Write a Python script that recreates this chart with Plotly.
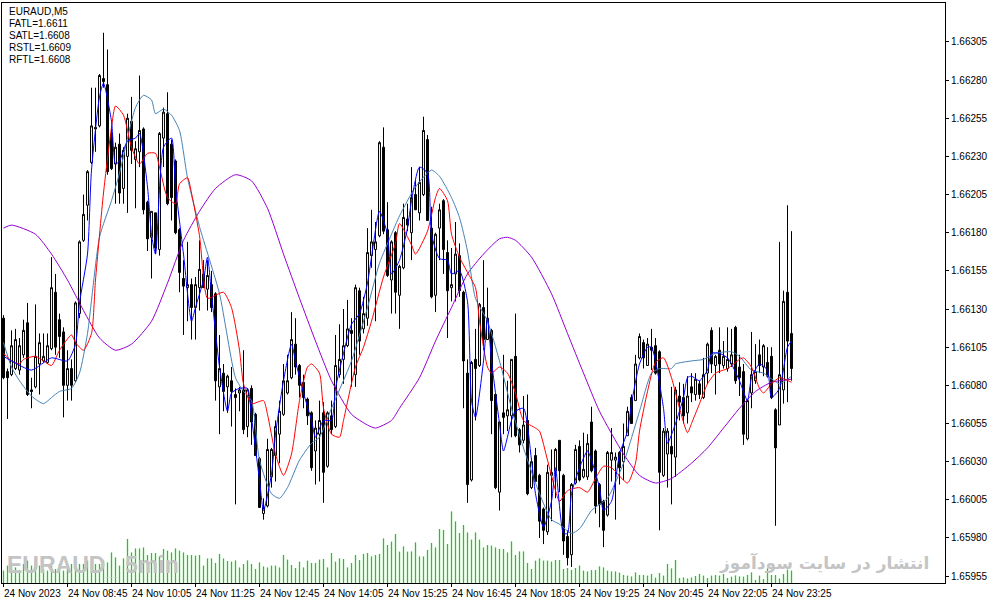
import plotly.graph_objects as go

# prices are stored in points (0.00001) above 1.66000
BASE = 1.66
POINT = 0.00001

OPEN_PTS = [
    124, 89, 87, 91, 90, 100, 121, 77, 79, 94,
    96, 95, 104, 141, 123, 115, 80, 91, 83, 127,
    175, 198, 226, 249, 250, 281, 277, 245, 225, 238,
    209, 230, 253, 228, 233, 248, 200, 177, 193, 169,
    242, 258, 238, 227, 182, 150, 144, 146, 131, 144,
    153, 143, 146, 140, 79, 88, 79, 83, 74, 75,
    77, 53, 78, 61, 32, -4, 1, 20, 34, 48,
    61, 75, 85, 107, 93, 82, 71, 62, 37, 48,
    62, 27, 60, 53, 87, 97, 106, 116, 87, 142,
    117, 124, 165, 169, 178, 236, 182, 149, 180, 139,
    157, 189, 180, 205, 193, 205, 241, 183, 139, 183,
    201, 167, 144, 153, 165, 141, 88, 18, 97, 93,
    131, 110, 116, 74, 10, 62, 60, 60, 99, 51,
    44, 57, 13, 34, 21, -1, -16, 21, 24, 44,
    21, -19, -31, 16, 40, 20, 20, 56, 37, 15,
    4, -5, 31, 31, 36, 30, 47, 72, 70, 98,
    108, 93, 105, 106, 102, 21, 35, 40, 33, 73,
    72, 62, 79, 74, 81, 72, 88, 116, 93, 103,
    93, 91, 94, 118, 92, 89, 45, 75, 83, 100,
    92, 95, 99, 64, 54, 77, 141, 114,
]
HIGH_PTS = [
    126, 91, 116, 117, 111, 123, 134, 85, 133, 114,
    114, 114, 164, 153, 127, 118, 103, 97, 135, 175,
    205, 221, 275, 275, 284, 311, 300, 250, 239, 245,
    236, 258, 269, 240, 283, 249, 201, 194, 193, 246,
    262, 272, 241, 228, 183, 162, 174, 150, 151, 175,
    162, 162, 155, 141, 113, 94, 87, 92, 78, 79,
    103, 78, 80, 62, 33, 6, 45, 39, 57, 70,
    94, 100, 128, 124, 94, 87, 72, 63, 57, 70,
    69, 63, 70, 113, 120, 130, 136, 124, 146, 144,
    138, 183, 195, 187, 240, 249, 200, 175, 181, 159,
    199, 199, 223, 214, 223, 256, 244, 197, 180, 199,
    202, 175, 170, 187, 173, 142, 97, 96, 117, 134,
    162, 144, 117, 75, 56, 100, 83, 97, 127, 52,
    73, 74, 32, 39, 22, 0, 28, 38, 39, 44,
    22, -15, 16, 41, 44, 49, 48, 66, 38, 16,
    5, 37, 52, 36, 37, 55, 66, 74, 100, 114,
    110, 111, 117, 111, 103, 52, 52, 79, 79, 82,
    81, 86, 88, 88, 83, 98, 108, 118, 100, 118,
    109, 118, 117, 119, 100, 94, 71, 115, 107, 110,
    107, 105, 105, 65, 174, 142, 198, 181,
]
LOW_PTS = [
    84, 58, 86, 90, 87, 98, 73, 65, 78, 74,
    95, 94, 103, 100, 98, 59, 70, 70, 82, 124,
    174, 188, 225, 233, 249, 275, 218, 221, 199, 199,
    199, 193, 225, 196, 223, 192, 168, 150, 166, 165,
    223, 198, 188, 179, 141, 113, 122, 110, 110, 129,
    144, 129, 128, 70, 48, 63, 62, 53, 2, 63,
    48, 46, 41, 34, 0, -8, 0, 13, 17, 29,
    60, 74, 84, 87, 72, 65, 54, 24, 15, 17,
    3, 26, 48, 52, 85, 81, 105, 79, 79, 100,
    114, 119, 157, 122, 177, 179, 151, 127, 127, 117,
    156, 181, 162, 195, 188, 204, 188, 137, 128, 162,
    153, 111, 135, 135, 138, 65, 3, 17, 57, 92,
    103, 110, 48, 12, -2, 48, 50, 46, 46, 36,
    42, 8, 12, 17, -20, -24, -18, -9, 6, 10,
    -31, -38, -39, 15, 17, 19, 18, 23, -4, -13,
    -26, -6, 17, -8, 15, 18, 47, 55, 70, 97,
    91, 93, 90, 87, -15, 20, 13, 2, 20, 57,
    55, 55, 69, 70, 71, 71, 81, 88, 74, 88,
    91, 89, 92, 81, 73, 41, 44, 65, 81, 88,
    86, 85, 71, -12, 54, 68, 69, 83,
]
CLOSE_PTS = [
    85, 85, 106, 110, 106, 116, 74, 76, 99, 108,
    99, 106, 144, 105, 112, 80, 91, 80, 134, 174,
    192, 220, 250, 248, 283, 279, 220, 222, 236, 206,
    234, 255, 234, 235, 247, 195, 176, 194, 170, 245,
    259, 199, 203, 180, 154, 145, 146, 131, 146, 156,
    144, 152, 131, 83, 91, 76, 86, 76, 72, 77,
    51, 77, 56, 34, 0, 0, 38, 38, 53, 63,
    83, 83, 110, 92, 80, 72, 60, 26, 52, 57,
    23, 62, 51, 93, 97, 106, 117, 114, 144, 109,
    127, 167, 174, 174, 239, 181, 152, 174, 141, 158,
    190, 185, 203, 195, 213, 247, 188, 138, 179, 195,
    169, 142, 146, 166, 142, 96, 15, 95, 91, 133,
    110, 124, 70, 13, 56, 59, 64, 97, 47, 41,
    54, 9, 30, 17, -9, -15, 23, 23, 38, 24,
    -22, -33, 15, 38, 18, 25, 42, 24, 1, 2,
    -15, 36, 36, 33, 26, 40, 63, 55, 94, 112,
    98, 107, 103, 88, 23, 50, 50, 35, 77, 69,
    60, 73, 75, 84, 74, 87, 107, 94, 99, 94,
    99, 97, 100, 83, 85, 48, 70, 87, 89, 93,
    106, 86, 72, 39, 87, 135, 109, 91,
]
# tick volume per bar
VOLUME = [
    62, 87, 87, 78, 62, 95, 112, 87, 112, 87,
    70, 62, 87, 70, 95, 62, 70, 95, 78, 95,
    95, 112, 112, 95, 95, 112, 103, 153, 128, 87,
    123, 220, 153, 173, 173, 178, 140, 150, 150, 133,
    170, 162, 153, 173, 162, 153, 140, 140, 137, 140,
    87, 123, 123, 100, 145, 123, 110, 107, 113, 78,
    95, 113, 95, 70, 103, 83, 78, 87, 87, 78,
    140, 117, 90, 75, 107, 78, 112, 100, 100, 117,
    120, 78, 150, 107, 123, 120, 78, 100, 140, 115,
    145, 150, 133, 140, 145, 223, 190, 207, 245, 157,
    183, 157, 158, 203, 133, 133, 165, 200, 178, 270,
    265, 195, 358, 308, 250, 290, 253, 217, 253, 217,
    178, 190, 187, 178, 170, 170, 153, 208, 140, 158,
    158, 100, 70, 112, 123, 112, 112, 107, 115, 115,
    70, 75, 65, 75, 87, 62, 58, 65, 65, 83,
    78, 62, 58, 58, 52, 40, 37, 33, 53, 40,
    40, 37, 45, 27, 50, 37, 95, 73, 115, 25,
    28, 23, 28, 35, 45, 37, 25, 37, 40, 37,
    45, 25, 32, 38, 33, 32, 40, 53, 15, 37,
    20, 73, 40, 40, 23, 45, 67, 62,
]

# indicator lines, read at sample bars
SATL_BARS = [0, 2, 8, 12, 16, 20, 24, 28, 32, 37, 41, 45, 49, 53, 58, 62, 66, 70, 74, 78,
             82, 87, 91, 93, 97, 99, 104, 108, 112, 116, 120, 124, 126, 128, 132, 137, 141, 145, 149, 155,
             159, 163, 167, 172, 176, 180, 184, 188, 192, 197]
SATL_PTS = [183, 185, 179, 166, 149, 129, 111, 103, 107, 122, 147, 175, 194, 209, 218, 214, 196, 166, 137, 109,
            83, 61, 54, 52, 57, 65, 85, 109, 131, 153, 166, 176, 177, 175, 164, 140, 114, 88, 63, 35,
            21, 16, 19, 29, 39, 52, 65, 76, 82, 84]

RSTL_BARS = [0, 2, 4, 7, 10, 12, 14, 17, 19, 21, 24, 27, 29, 33, 35, 37, 38, 40, 42, 44,
             46, 49, 54, 58, 60, 62, 64, 67, 69, 71, 74, 77, 79, 82, 87, 91, 94, 97, 99, 103,
             107, 109, 112, 114, 116, 118, 121, 124, 127, 130, 134, 137, 139, 142, 144, 147, 149, 151, 155, 159,
             162, 164, 167, 168, 172, 175, 178, 182, 184, 187, 190, 194, 196, 197]
RSTL_PTS = [108, 92, 83, 73, 68, 72, 76, 78, 88, 114, 177, 201, 219, 262, 270, 267, 258, 261, 257, 247,
            216, 184, 140, 85, 76, 70, 31, 9, 6, 13, 31, 42, 46, 65, 96, 131, 160, 179, 191, 210,
            221, 217, 203, 190, 168, 137, 122, 96, 65, 39, 9, -8, -11, -17, -14, -2, 2, 6, 29, 63,
            88, 91, 91, 94, 96, 97, 101, 102, 99, 90, 88, 81, 84, 86]

RFTL_BARS = [0, 2, 4, 5, 8, 10, 12, 14, 17, 18, 20, 22, 23, 25, 27, 28, 30, 32, 34, 36,
             38, 39, 41, 43, 44, 46, 47, 49, 51, 53, 55, 57, 59, 60, 62, 65, 66, 68, 70, 72,
             74, 76, 77, 79, 80, 82, 84, 85, 88, 90, 92, 95, 98, 99, 102, 103, 106, 108, 109, 111,
             112, 114, 116, 118, 119, 121, 122, 124, 126, 128, 130, 133, 134, 136, 138, 139, 141, 144, 146, 148,
             150, 152, 156, 158, 159, 161, 163, 165, 167, 169, 171, 172, 174, 176, 178, 181, 184, 185, 187, 189,
             190, 192, 194, 197]
RFTL_PTS = [101, 96, 94, 97, 99, 96, 93, 103, 113, 108, 103, 114, 149, 206, 249, 263, 257, 236, 225, 232,
            232, 223, 203, 199, 212, 216, 206, 178, 137, 139, 141, 131, 103, 81, 68, 70, 61, 35, 21, 35,
            70, 92, 94, 88, 65, 48, 46, 57, 92, 105, 122, 151, 173, 186, 172, 166, 181, 203, 209, 201,
            179, 164, 154, 144, 122, 92, 88, 92, 88, 75, 57, 52, 50, 31, 11, 4, 11, 13, 10, 19,
            27, 26, 16, 29, 50, 76, 95, 98, 85, 65, 49, 55, 68, 81, 88, 91, 97, 98, 92, 78,
            75, 81, 85, 82]

FATL_BARS = [0, 2, 7, 12, 16, 18, 19, 21, 22, 24, 25, 27, 28, 29, 31, 33, 34, 36, 37, 38,
             40, 42, 43, 45, 47, 48, 50, 51, 52, 54, 56, 57, 59, 61, 62, 64, 65, 67, 68, 70,
             72, 73, 75, 77, 78, 80, 82, 83, 85, 87, 89, 91, 92, 94, 96, 97, 99, 101, 102, 104,
             106, 107, 109, 111, 112, 114, 116, 117, 118, 120, 121, 122, 124, 125, 127, 128, 130, 132, 133, 135,
             137, 138, 140, 141, 142, 144, 146, 147, 149, 150, 152, 153, 154, 156, 157, 159, 161, 162, 163, 165,
             166, 168, 170, 171, 172, 174, 176, 177, 179, 181, 182, 184, 186, 187, 189, 191, 192, 194, 196, 197]
FATL_PTS = [99, 96, 90, 98, 96, 107, 134, 166, 221, 269, 278, 253, 225, 227, 240, 242, 245, 210, 179, 166,
            236, 242, 210, 166, 122, 131, 149, 164, 140, 92, 63, 75, 78, 78, 59, 18, -2, 22, 48, 83,
            107, 96, 75, 57, 46, 57, 57, 78, 101, 120, 127, 147, 164, 194, 179, 153, 162, 183, 201, 223,
            219, 179, 163, 162, 153, 155, 135, 70, 59, 96, 124, 96, 55, 37, 57, 63, 65, 31, 9, -13,
            4, 26, -17, -17, 9, 26, 37, 31, 13, -2, 4, 18, 35, 50, 68, 94, 105, 105, 96, 65,
            42, 55, 72, 85, 86, 83, 90, 101, 101, 98, 94, 83, 70, 85, 94, 90, 72, 78, 105, 109]

TICK_BARS = [0, 16, 32, 48, 64, 80, 96, 112, 128, 144, 160, 176, 192]
TICK_TEXT = ["24 Nov 2023", "24 Nov 08:45", "24 Nov 10:05", "24 Nov 11:25", "24 Nov 12:45",
             "24 Nov 14:05", "24 Nov 15:25", "24 Nov 16:45", "24 Nov 18:05", "24 Nov 19:25",
             "24 Nov 20:45", "24 Nov 22:05", "24 Nov 23:25"]
PRICE_TICKS = [1.65955, 1.65980, 1.66005, 1.66030, 1.66055, 1.66080, 1.66105, 1.66130,
               1.66155, 1.66180, 1.66205, 1.66230, 1.66255, 1.66280, 1.66305]
LEGEND_LINES = ["EURAUD,M5", "FATL=1.6611", "SATL=1.6608", "RSTL=1.6609", "RFTL=1.6608"]


def to_price(pts):
    return [round(BASE + p * POINT, 5) for p in pts]


bars = list(range(len(CLOSE_PTS)))
FONT = "Liberation Sans, Arial, sans-serif"

fig = go.Figure()

# volume as thin vertical sticks (one segment per bar)
vx, vy = [], []
for b, v in zip(bars, VOLUME):
    vx += [b, b, None]
    vy += [0, v, None]
fig.add_trace(go.Scatter(
    x=vx, y=vy, yaxis="y2", mode="lines",
    line=dict(color="#1ec81e", width=1.3),
    hoverinfo="skip",
))

fig.add_trace(go.Candlestick(
    x=bars, open=to_price(OPEN_PTS), high=to_price(HIGH_PTS),
    low=to_price(LOW_PTS), close=to_price(CLOSE_PTS),
    increasing=dict(line=dict(color="black", width=1), fillcolor="white"),
    decreasing=dict(line=dict(color="black", width=1), fillcolor="black"),
    whiskerwidth=0,
))

lines = [
    (SATL_BARS, SATL_PTS, "#9400d3"),
    (RSTL_BARS, RSTL_PTS, "#4682b4"),
    (RFTL_BARS, RFTL_PTS, "#ff0000"),
    (FATL_BARS, FATL_PTS, "#0000ff"),
]
for bx, py, col in lines:
    fig.add_trace(go.Scatter(
        x=bx, y=to_price(py), mode="lines",
        line=dict(color=col, width=1, shape="spline", smoothing=0.6),
        hoverinfo="skip",
    ))

annotations = []
for b, t in zip(TICK_BARS, TICK_TEXT):
    annotations.append(dict(
        x=b, y=0, xref="x", yref="paper", text=t, showarrow=False,
        xanchor="left", yanchor="top", xshift=-2, yshift=-3,
        font=dict(family=FONT, size=10, color="black"),
    ))

# chart info block, top left
for k, t in enumerate(LEGEND_LINES):
    annotations.append(dict(
        x=0.005, y=(583 - 11 - 12.2 * k) / 580, xref="paper", yref="paper",
        text=t, showarrow=False, xanchor="left", yanchor="middle",
        font=dict(family=FONT, size=10, color="black"),
    ))

# watermarks
wm = dict(family="Liberation Sans, Arial, sans-serif", size=23, color="#c4c4c4")
annotations.append(dict(x=(5 - 2) / 943, y=(583 - 565) / 580, xref="paper", yref="paper",
                        text="<b>EURAUD</b>", showarrow=False, xanchor="left", yanchor="middle",
                        font=wm))
annotations.append(dict(x=(123 - 2) / 943, y=(583 - 565) / 580, xref="paper", yref="paper",
                        text="<b>5min</b>", showarrow=False, xanchor="left", yanchor="middle",
                        font=wm))
annotations.append(dict(x=(102 - 2) / 943, y=(583 - 573) / 580, xref="paper", yref="paper",
                        text="___", showarrow=False, xanchor="left", yanchor="middle",
                        font=dict(family=FONT, size=8, color="#d4d4d4")))
annotations.append(dict(x=(931 - 2) / 943, y=(583 - 563) / 580, xref="paper", yref="paper",
                        text="<b>انتشار در سایت سودآموز</b>", showarrow=False,
                        xanchor="right", yanchor="middle",
                        font=dict(family="DejaVu Sans, Noto Sans, sans-serif", size=17,
                                  color="#c4c4c4")))

fig.update_layout(
    width=991, height=605,
    margin=dict(l=2, r=46, t=3, b=22),
    paper_bgcolor="white", plot_bgcolor="white",
    showlegend=False,
    font=dict(family=FONT, size=10, color="black"),
    annotations=annotations,
    xaxis=dict(
        range=[-0.375, 235.375], rangeslider=dict(visible=False),
        showgrid=False, zeroline=False, showline=True, linecolor="black", linewidth=1,
        mirror=True, ticks="outside", ticklen=3, tickcolor="black",
        tickvals=TICK_BARS, showticklabels=False,
    ),
    yaxis=dict(
        range=[1.659505, 1.663305], side="right",
        showgrid=False, zeroline=False, showline=True, linecolor="black", linewidth=1,
        mirror=True, ticks="outside", ticklen=3, tickcolor="black",
        tickvals=PRICE_TICKS, tickformat=".5f",
        tickfont=dict(family=FONT, size=10, color="black"),
    ),
    yaxis2=dict(
        range=[0, 2900], overlaying="y", visible=False,
    ),
)

# drop the default page margin so the chart sits at the window corner
fig.write_html("out.html", config={"displayModeBar": False},
               post_script="document.body.style.margin = '0';")
